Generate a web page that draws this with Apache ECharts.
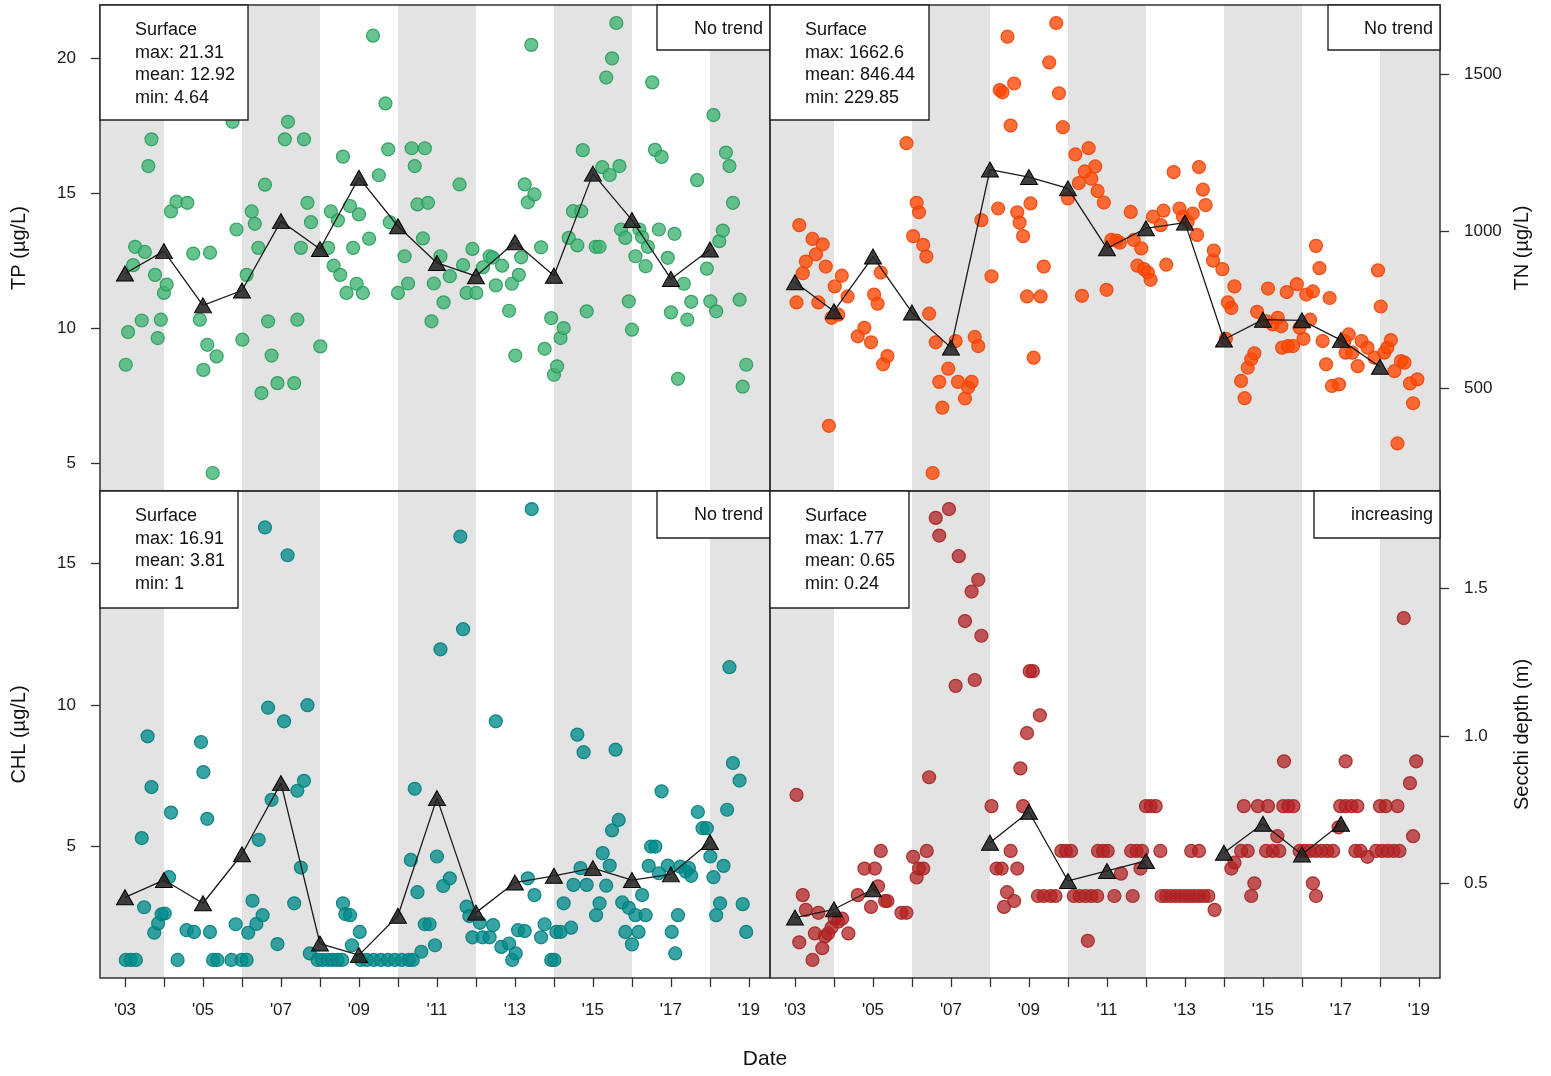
<!DOCTYPE html>
<html>
<head>
<meta charset="utf-8">
<script src="https://cdn.jsdelivr.net/npm/echarts@6/dist/echarts.min.js"></script>
<style>
html, body { margin: 0; padding: 0; background: #ffffff; }
#chart { width: 1551px; height: 1076px; }
</style>
</head>
<body>
<div id="chart"></div>
<script>
// ---- data (dates as decimal years) ----
const years = [2003, 2004, 2005, 2006, 2007, 2008, 2009, 2010, 2011, 2012, 2013, 2014, 2015, 2016, 2017, 2018];
const yearTicks = [2003, 2004, 2005, 2006, 2007, 2008, 2009, 2010, 2011, 2012, 2013, 2014, 2015, 2016, 2017, 2018, 2019];
const yearLabels = [2003, 2005, 2007, 2009, 2011, 2013, 2015, 2017, 2019];
const grayBands = [[2002.36, 2004], [2006, 2008], [2010, 2012], [2014, 2016], [2018, 2019.54]];

const tpTicks = [5, 10, 15, 20];
const tnTicks = [500, 1000, 1500];
const chlTicks = [5, 10, 15];
const secchiTicks = [0.5, 1.0, 1.5];

const tpStats = { max: 21.31, mean: 12.92, min: 4.64 };
const tnStats = { max: 1662.6, mean: 846.44, min: 229.85 };
const chlStats = { max: 16.91, mean: 3.81, min: 1 };
const secchiStats = { max: 1.77, mean: 0.65, min: 0.24 };

const tpTrend = 'No trend';
const tnTrend = 'No trend';
const chlTrend = 'No trend';
const secchiTrend = 'increasing';

const tpSamples = [
  [2003.02,8.65],[2003.08,9.86],[2003.21,12.34],[2003.26,13.02],[2003.43,10.29],[2003.51,12.83],[2003.60,16.01],[2003.68,17.0],
  [2003.77,11.98],[2003.84,9.64],[2003.92,10.32],[2004.0,11.31],[2004.07,11.62],[2004.18,14.33],[2004.32,14.69],[2004.60,14.65],
  [2004.75,12.77],[2004.92,10.32],[2005.01,8.46],[2005.11,9.39],[2005.18,12.8],[2005.25,4.64],[2005.35,8.96],[2005.76,17.65],
  [2005.86,13.66],[2006.01,9.58],[2006.12,11.98],[2006.25,14.33],[2006.33,13.87],[2006.42,12.98],[2006.5,7.6],[2006.59,15.32],
  [2006.67,10.26],[2006.76,8.99],[2006.91,7.97],[2007.1,17.0],[2007.18,17.65],[2007.34,7.97],[2007.42,10.32],[2007.51,12.98],
  [2007.59,17.0],[2007.68,14.65],[2007.77,13.93],[2008.01,9.33],[2008.21,12.98],[2008.28,14.33],[2008.35,12.32],[2008.46,14.0],
  [2008.52,11.98],[2008.59,16.36],[2008.68,11.31],[2008.77,14.53],[2008.85,12.98],[2008.94,11.65],[2009.0,14.22],[2009.1,11.31],
  [2009.26,13.32],[2009.36,20.84],[2009.51,15.67],[2009.68,18.33],[2009.75,16.63],[2009.79,13.93],[2010.0,11.31],[2010.17,12.67],
  [2010.26,11.66],[2010.35,16.67],[2010.43,16.01],[2010.5,14.59],[2010.64,13.33],[2010.69,16.67],[2010.77,14.65],[2010.86,10.26],
  [2010.92,11.66],[2011.09,12.67],[2011.17,10.96],[2011.33,11.93],[2011.58,15.33],[2011.67,12.34],[2011.76,11.31],[2011.91,12.94],
  [2012.01,11.31],[2012.18,12.26],[2012.35,12.67],[2012.43,12.62],[2012.51,11.59],[2012.67,12.32],[2012.85,10.65],[2012.92,11.65],
  [2013.01,8.99],[2013.1,11.98],[2013.16,12.63],[2013.25,15.33],[2013.33,14.67],[2013.42,20.5],[2013.5,14.96],[2013.67,13.0],
  [2013.76,9.24],[2013.93,10.38],[2014.0,8.28],[2014.08,8.59],[2014.17,9.64],[2014.25,10.01],[2014.38,13.35],[2014.49,14.34],
  [2014.6,13.07],[2014.7,14.34],[2014.74,16.6],[2014.84,10.63],[2015.07,13.02],[2015.17,13.02],[2015.24,15.97],[2015.34,19.29],
  [2015.43,15.68],[2015.49,20.0],[2015.6,21.31],[2015.68,16.01],[2015.72,13.66],[2015.83,13.35],[2015.92,11.0],[2016.0,9.95],
  [2016.09,12.67],[2016.19,13.66],[2016.26,13.38],[2016.35,12.3],[2016.41,13.02],[2016.52,19.11],[2016.59,16.61],[2016.69,13.66],
  [2016.76,16.35],[2016.92,12.61],[2017.0,10.59],[2017.09,13.5],[2017.18,8.13],[2017.33,11.65],[2017.42,10.32],[2017.52,10.98],
  [2017.67,15.49],[2017.92,12.21],[2018.01,11.0],[2018.09,17.9],[2018.16,10.63],[2018.24,13.23],[2018.33,13.62],[2018.41,16.51],
  [2018.5,16.01],[2018.59,14.65],[2018.76,11.06],[2018.84,7.84],[2018.93,8.65]
];
const tpAnnual = [12.03, 12.86, 10.85, 11.40, 13.97, 12.94, 15.58, 13.78, 12.42, 11.93, 13.19, 11.95, 15.73, 14.01, 11.83, 12.92];

const tnSamples = [
  [2003.04,773],[2003.11,1019],[2003.2,866],[2003.28,903],[2003.45,975],[2003.54,926],[2003.6,773],[2003.71,958],[2003.79,887],
  [2003.87,380],[2003.94,724],[2004.02,824],[2004.11,734],[2004.2,858],[2004.35,792],[2004.61,665],[2004.78,692],[2004.95,646],
  [2005.03,798],[2005.12,769],[2005.2,868],[2005.26,576],[2005.37,602],[2005.86,1280],[2006.03,984],[2006.12,1090],[2006.18,1060],
  [2006.29,956],[2006.37,919],[2006.44,737],[2006.53,229.85],[2006.61,646],[2006.7,520],[2006.78,438],[2006.93,562],[2007.12,650],
  [2007.18,520],[2007.36,467],[2007.44,502],[2007.53,520],[2007.61,663],[2007.7,634],[2007.78,1035],[2008.04,856],[2008.21,1072],
  [2008.25,1449],[2008.32,1442],[2008.45,1619],[2008.53,1336],[2008.62,1470],[2008.7,1060],[2008.76,1027],[2008.85,984],[2008.95,792],
  [2009.04,1088],[2009.12,597],[2009.3,792],[2009.38,887],[2009.52,1537],[2009.7,1662.6],[2009.77,1439],[2009.87,1331],[2010.0,1104],
  [2010.19,1244],[2010.28,1153],[2010.36,794],[2010.43,1190],[2010.53,1264],[2010.6,1167],[2010.7,1206],[2010.76,1128],[2010.92,1091],
  [2010.99,813],[2011.11,972],[2011.24,970],[2011.33,963],[2011.61,1061],[2011.69,972],[2011.78,890],[2011.88,945],[2011.95,879],
  [2012.05,868],[2012.12,845],[2012.18,1046],[2012.38,1019],[2012.45,1065],[2012.52,893],[2012.71,1188],[2012.86,1072],[2012.95,1046],
  [2013.07,1030],[2013.2,1056],[2013.31,988],[2013.36,1204],[2013.46,1132],[2013.53,1083],[2013.72,906],[2013.74,938],[2013.96,879],
  [2014.05,657],[2014.1,773],[2014.19,755],[2014.27,824],[2014.44,523],[2014.53,468],[2014.61,565],[2014.7,592],[2014.78,611],
  [2014.85,743],[2015.09,713],[2015.13,817],[2015.25,703],[2015.38,724],[2015.47,697],[2015.49,629],[2015.61,806],[2015.64,634],
  [2015.77,634],[2015.87,831],[2015.94,692],[2016.04,657],[2016.11,798],[2016.21,718],[2016.28,808],[2016.36,953],[2016.45,882],
  [2016.53,650],[2016.62,576],[2016.71,787],[2016.77,507],[2016.95,512],[2017.09,650],[2017.12,613],[2017.2,671],[2017.29,613],
  [2017.43,570],[2017.53,650],[2017.68,629],[2017.86,597],[2017.95,875],[2018.02,760],[2018.11,613],[2018.19,629],[2018.28,653],
  [2018.37,554],[2018.45,324],[2018.54,586],[2018.63,581],[2018.77,515],[2018.85,452],[2018.96,528]
];
const tnAnnual = [837, 745, 919, 741, 629, 1196, 1172, 1136, 945, 1009, 1027, 655, 718, 716, 653, 568];

const chlSamples = [
  [2003.02,1],[2003.15,1],[2003.28,1],[2003.43,5.3],[2003.49,2.86],[2003.58,8.89],[2003.68,7.1],[2003.75,1.96],[2003.85,2.29],
  [2003.94,2.61],[2004.02,2.64],[2004.13,3.92],[2004.18,6.2],[2004.35,1],[2004.58,2.05],[2004.77,1.99],[2004.95,8.69],[2005.01,7.63],
  [2005.11,5.98],[2005.18,1.99],[2005.26,1],[2005.37,1],[2005.73,1],[2005.84,2.26],[2005.99,1],[2006.12,1],[2006.16,1.96],
  [2006.27,3.09],[2006.37,2.27],[2006.43,5.24],[2006.53,2.58],[2006.59,16.26],[2006.67,9.9],[2006.76,6.65],[2006.91,1.56],
  [2007.08,9.42],[2007.17,15.28],[2007.34,3.0],[2007.42,6.97],[2007.51,4.26],[2007.59,7.32],[2007.68,9.99],[2007.74,1.23],
  [2007.94,1],[2008.06,1],[2008.2,1],[2008.32,1],[2008.45,1],[2008.57,1],[2008.59,3.0],[2008.65,2.62],[2008.77,2.58],[2008.82,1.52],
  [2009.02,1.99],[2009.05,1],[2009.2,1],[2009.38,1],[2009.56,1],[2009.74,1],[2009.92,1],[2010.1,1],[2010.28,1],[2010.38,1],
  [2010.33,4.53],[2010.43,7.04],[2010.5,3.39],[2010.6,1.29],[2010.69,2.26],[2010.81,2.26],[2010.95,1.52],[2011.0,4.65],[2011.09,11.96],
  [2011.16,3.61],[2011.33,3.88],[2011.6,15.94],[2011.67,12.67],[2011.76,2.88],[2011.83,2.55],[2011.91,1.8],[2012.1,2.31],[2012.17,1.8],
  [2012.35,1.8],[2012.44,2.23],[2012.51,9.42],[2012.65,1.46],[2012.85,1.58],[2012.93,1],[2013.02,1.23],[2013.08,2.05],[2013.25,2.02],
  [2013.33,3.88],[2013.43,16.91],[2013.5,3.29],[2013.67,1.8],[2013.76,2.26],[2013.93,1],[2014.01,1],[2014.06,1.99],[2014.17,1.99],
  [2014.25,3.0],[2014.44,2.14],[2014.5,3.65],[2014.6,8.95],[2014.68,4.24],[2014.76,8.33],[2014.84,3.65],[2015.08,2.58],[2015.17,3.0],
  [2015.25,4.77],[2015.34,3.62],[2015.43,4.33],[2015.49,5.57],[2015.58,8.42],[2015.66,5.94],[2015.75,3.03],[2015.83,1.99],[2015.92,2.84],
  [2016.0,1.55],[2016.09,2.58],[2016.17,1.99],[2016.26,3.29],[2016.35,2.58],[2016.43,4.32],[2016.49,5.0],[2016.6,5.0],[2016.69,4.06],
  [2016.76,6.95],[2016.92,4.33],[2017.02,1.99],[2017.11,1.23],[2017.18,2.58],[2017.24,4.29],[2017.38,4.12],[2017.46,4.24],[2017.52,3.97],
  [2017.69,6.22],[2017.81,5.65],[2017.92,5.65],[2018.01,4.65],[2018.09,3.92],[2018.16,2.58],[2018.26,3.0],[2018.35,4.32],[2018.44,6.3],
  [2018.5,11.33],[2018.59,7.95],[2018.76,7.33],[2018.84,2.97],[2018.93,1.99]
];
const chlAnnual = [3.21, 3.82, 3.0, 4.73, 7.24, 1.58, 1.17, 2.56, 6.71, 2.67, 3.73, 3.97, 4.24, 3.82, 4.02, 5.16];

const secchiSamples = [
  [2003.04,0.80],[2003.11,0.30],[2003.2,0.46],[2003.28,0.41],[2003.45,0.24],[2003.51,0.33],[2003.6,0.40],[2003.7,0.28],[2003.77,0.32],
  [2003.85,0.33],[2003.94,0.35],[2004.02,0.38],[2004.11,0.37],[2004.21,0.38],[2004.37,0.33],[2004.61,0.46],[2004.78,0.55],[2004.95,0.42],
  [2005.05,0.55],[2005.13,0.49],[2005.2,0.61],[2005.31,0.44],[2005.37,0.44],[2005.73,0.40],[2005.86,0.40],[2006.03,0.59],[2006.12,0.52],
  [2006.18,0.55],[2006.29,0.55],[2006.38,0.61],[2006.44,0.86],[2006.61,1.74],[2006.7,1.68],[2006.95,1.77],[2007.12,1.17],[2007.2,1.61],
  [2007.36,1.39],[2007.53,1.49],[2007.61,1.19],[2007.7,1.53],[2007.78,1.34],[2008.04,0.762],[2008.17,0.55],[2008.3,0.55],[2008.36,0.42],
  [2008.44,0.47],[2008.53,0.61],[2008.62,0.44],[2008.7,0.55],[2008.78,0.89],[2008.85,0.762],[2008.95,1.01],[2009.02,1.22],[2009.1,1.22],
  [2009.28,1.07],[2009.23,0.457],[2009.38,0.457],[2009.55,0.457],[2009.68,0.457],[2009.83,0.61],[2009.95,0.61],[2010.08,0.61],
  [2010.15,0.457],[2010.3,0.457],[2010.45,0.457],[2010.51,0.305],[2010.6,0.457],[2010.75,0.457],[2010.77,0.61],[2010.9,0.61],
  [2011.02,0.61],[2011.19,0.457],[2011.36,0.533],[2011.66,0.457],[2011.62,0.61],[2011.76,0.61],[2011.86,0.55],[2011.9,0.61],
  [2012.0,0.762],[2012.12,0.762],[2012.25,0.762],[2012.37,0.61],[2012.4,0.457],[2012.52,0.457],[2012.64,0.457],[2012.76,0.457],
  [2012.88,0.457],[2013.0,0.457],[2013.12,0.457],[2013.16,0.61],[2013.24,0.457],[2013.36,0.61],[2013.36,0.457],[2013.48,0.457],
  [2013.6,0.457],[2013.76,0.41],[2014.19,0.55],[2014.27,0.57],[2014.44,0.61],[2014.51,0.762],[2014.61,0.61],[2014.7,0.457],
  [2014.78,0.50],[2014.87,0.762],[2015.08,0.61],[2015.13,0.762],[2015.25,0.61],[2015.37,0.66],[2015.42,0.61],[2015.52,0.762],
  [2015.54,0.914],[2015.65,0.762],[2015.78,0.762],[2015.94,0.61],[2016.06,0.61],[2016.2,0.61],[2016.28,0.50],[2016.35,0.61],
  [2016.36,0.457],[2016.5,0.61],[2016.65,0.61],[2016.8,0.61],[2016.94,0.69],[2016.98,0.762],[2017.12,0.914],[2017.12,0.762],
  [2017.27,0.762],[2017.37,0.61],[2017.42,0.762],[2017.5,0.61],[2017.68,0.59],[2017.9,0.61],[2018.0,0.762],[2018.05,0.61],
  [2018.15,0.762],[2018.2,0.61],[2018.35,0.61],[2018.45,0.762],[2018.5,0.61],[2018.61,1.40],[2018.77,0.84],[2018.85,0.66],[2018.93,0.914]
];
const secchiAnnual = [0.384, 0.412, 0.48, null, null, 0.638, 0.743, 0.508, 0.542, 0.576, null, 0.604, 0.702, 0.598, 0.702, null];

// ---- layout ----
const FONT = '"Liberation Sans", Arial, Helvetica, sans-serif';
const X_MIN = 2002.36, X_MAX = 2019.54;
const colLeft = [100, 770];
const rowTop = [5, 491];
const rowHeight = [486, 487];
const PANEL_W = 670;

const panels = [
  { title: 'TP (µg/L)', samples: tpSamples, annual: tpAnnual, stats: tpStats, trend: tpTrend, ticks: tpTicks,
    row: 0, col: 0, side: 'left', boxW: 148, trendW: 113,
    fill: 'rgba(60,179,113,0.78)', stroke: 'rgba(40,155,90,0.9)' },
  { title: 'TN (µg/L)', samples: tnSamples, annual: tnAnnual, stats: tnStats, trend: tnTrend, ticks: tnTicks,
    row: 0, col: 1, side: 'right', boxW: 159, trendW: 112,
    fill: 'rgba(255,69,0,0.78)', stroke: 'rgba(235,70,10,0.9)' },
  { title: 'CHL (µg/L)', samples: chlSamples, annual: chlAnnual, stats: chlStats, trend: chlTrend, ticks: chlTicks,
    row: 1, col: 0, side: 'left', boxW: 138, trendW: 113,
    fill: 'rgba(0,139,139,0.78)', stroke: 'rgba(0,125,125,0.9)' },
  { title: 'Secchi depth (m)', samples: secchiSamples, annual: secchiAnnual, stats: secchiStats, trend: secchiTrend, ticks: secchiTicks,
    row: 1, col: 1, side: 'right', boxW: 139, trendW: 126, decimals: 1,
    fill: 'rgba(178,34,34,0.75)', stroke: 'rgba(165,35,35,0.9)' }
];

function paddedRange(samples) {
  let lo = Infinity, hi = -Infinity;
  samples.forEach(function (d) { lo = Math.min(lo, d[1]); hi = Math.max(hi, d[1]); });
  const pad = 0.04 * (hi - lo);
  return [lo - pad, hi + pad];
}

const labelStyle = { fontSize: 17, color: '#1a1a1a', fontFamily: FONT };
const tickStyle = { color: '#333', width: 1.3 };

const grid = [], xAxis = [], yAxis = [], series = [], graphics = [];

panels.forEach(function (p, i) {
  const left = colLeft[p.col], top = rowTop[p.row], h = rowHeight[p.row];
  const range = paddedRange(p.samples);
  grid.push({ left: left, top: top, width: PANEL_W, height: h, containLabel: false });

  xAxis.push({
    type: 'value', gridIndex: i, min: X_MIN, max: X_MAX, show: p.row === 1,
    axisLine: { show: false }, splitLine: { show: false },
    axisTick: { show: true, inside: false, length: 9, customValues: yearTicks, lineStyle: tickStyle },
    axisLabel: Object.assign({ customValues: yearLabels, margin: 24,
      formatter: function (v) { return "'" + String(Math.round(v)).slice(2); } }, labelStyle)
  });

  yAxis.push({
    type: 'value', gridIndex: i, min: range[0], max: range[1], position: p.side,
    axisLine: { show: false }, splitLine: { show: false },
    axisTick: { show: true, inside: false, length: 9, customValues: p.ticks, lineStyle: tickStyle },
    axisLabel: Object.assign({ customValues: p.ticks, margin: 24,
      formatter: function (v) { return p.decimals ? v.toFixed(p.decimals) : String(v); } }, labelStyle)
  });

  // alternating two-year shading
  series.push({
    type: 'custom', xAxisIndex: i, yAxisIndex: i, silent: true, z: 1,
    data: grayBands, encode: { x: [0, 1] },
    renderItem: function (params, api) {
      const cs = params.coordSys;
      const x0 = Math.max(cs.x, api.coord([api.value(0), range[0]])[0]);
      const x1 = Math.min(cs.x + cs.width, api.coord([api.value(1), range[0]])[0]);
      return { type: 'rect', shape: { x: x0, y: cs.y, width: x1 - x0, height: cs.height },
               style: { fill: '#e3e3e3' } };
    }
  });

  // individual samples
  series.push({
    type: 'scatter', xAxisIndex: i, yAxisIndex: i, z: 3, silent: true,
    data: p.samples, symbol: 'circle', symbolSize: 13,
    itemStyle: { color: p.fill, borderColor: p.stroke, borderWidth: 1.2, opacity: 1 }
  });

  // annual means
  series.push({
    type: 'line', xAxisIndex: i, yAxisIndex: i, z: 4, silent: true, connectNulls: false,
    data: years.map(function (y, k) { return [y, p.annual[k] == null ? '-' : p.annual[k]]; }),
    symbol: 'triangle', symbolSize: [17, 15], showAllSymbol: true,
    itemStyle: { color: 'rgba(35,35,35,0.88)', borderColor: '#000', borderWidth: 1 },
    lineStyle: { color: '#1a1a1a', width: 1.3 }
  });

  // panel frame
  graphics.push({ type: 'rect', z: 110, silent: true,
    shape: { x: left, y: top, width: PANEL_W, height: h },
    style: { fill: 'none', stroke: '#333', lineWidth: 1.5 } });

  // summary box
  const boxH = p.row === 0 ? 115 : 117;
  graphics.push({ type: 'rect', z: 115, silent: true,
    shape: { x: left, y: top, width: p.boxW, height: boxH },
    style: { fill: '#fff', stroke: '#222', lineWidth: 1.4 } });
  const lines = ['Surface', 'max: ' + p.stats.max, 'mean: ' + p.stats.mean, 'min: ' + p.stats.min];
  lines.forEach(function (t, k) {
    graphics.push(textEl(t, left + 35, top + 25 + k * 22.6, 18, 'left', 0));
  });

  // trend box
  const trendH = p.row === 0 ? 45 : 47;
  graphics.push({ type: 'rect', z: 115, silent: true,
    shape: { x: left + PANEL_W - p.trendW, y: top, width: p.trendW, height: trendH },
    style: { fill: '#fff', stroke: '#222', lineWidth: 1.4 } });
  graphics.push(textEl(p.trend, left + PANEL_W - 7, top + 24.5, 18, 'right', 0));

  // axis title
  const tx = p.side === 'left' ? 19 : 1522;
  graphics.push(textEl(p.title, tx, top + h / 2, 20, 'center', Math.PI / 2));
});

graphics.push(textEl('Date', 765, 1059, 21, 'center', 0));

function textEl(str, x, y, size, align, rotation) {
  return {
    type: 'text', z: 120, silent: true, x: x, y: y, rotation: rotation,
    style: { text: str, font: size + 'px ' + FONT, fill: '#111',
             align: align, textAlign: align, verticalAlign: 'middle', textVerticalAlign: 'middle' }
  };
}

const chart = echarts.init(document.getElementById('chart'));
chart.setOption({
  animation: false,
  backgroundColor: '#ffffff',
  grid: grid,
  xAxis: xAxis,
  yAxis: yAxis,
  series: series,
  graphic: { elements: graphics }
});
</script>
</body>
</html>
